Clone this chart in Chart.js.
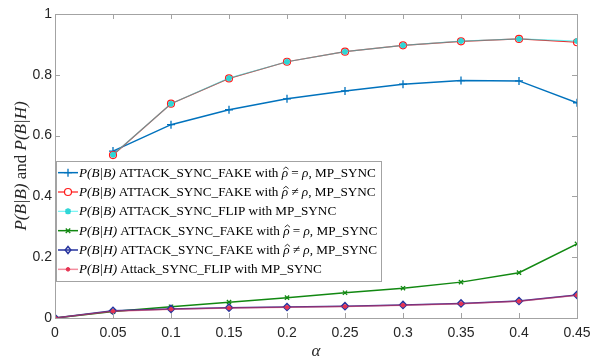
<!DOCTYPE html>
<html>
<head>
<meta charset="utf-8">
<script src="https://cdn.jsdelivr.net/npm/chart.js@4.4.0/dist/chart.umd.min.js"></script>
<style>
  html, body { margin: 0; padding: 0; background: #ffffff; }
  #wrap { width: 603px; height: 362px; position: relative; }
</style>
</head>
<body>
<div id="wrap"><canvas id="c" width="603" height="362"></canvas></div>
<script>
// ---------------- data ----------------
const alphaBB = [0.05, 0.1, 0.15, 0.2, 0.25, 0.3, 0.35, 0.4, 0.45];
const alphaBH = [0, 0.05, 0.1, 0.15, 0.2, 0.25, 0.3, 0.35, 0.4, 0.45];

const pBB_fake_eq  = [0.549, 0.636, 0.685, 0.721, 0.747, 0.769, 0.781, 0.780, 0.708];
const pBB_fake_neq = [0.536, 0.705, 0.788, 0.843, 0.876, 0.897, 0.910, 0.918, 0.907];
const pBB_flip     = [0.537, 0.705, 0.789, 0.843, 0.876, 0.897, 0.911, 0.918, 0.911];

const pBH_fake_eq  = [0, 0.021, 0.037, 0.052, 0.067, 0.083, 0.098, 0.118, 0.149, 0.244];
const pBH_fake_neq = [0, 0.024, 0.030, 0.034, 0.036, 0.039, 0.043, 0.048, 0.056, 0.076];
const pBH_flip     = [0, 0.022, 0.029, 0.033, 0.035, 0.038, 0.042, 0.047, 0.055, 0.075];

// '*' toggles italic
const legendLabels = [
  "*P(B|B)* ATTACK_SYNC_FAKE with *ρ̂* = *ρ*, MP_SYNC",
  "*P(B|B)* ATTACK_SYNC_FAKE with *ρ̂* ≠ *ρ*, MP_SYNC",
  "*P(B|B)* ATTACK_SYNC_FLIP with MP_SYNC",
  "*P(B|H)* ATTACK_SYNC_FAKE with *ρ̂* = *ρ*, MP_SYNC",
  "*P(B|H)* ATTACK_SYNC_FAKE with *ρ̂* ≠ *ρ*, MP_SYNC",
  "*P(B|H)* Attack_SYNC_FLIP with MP_SYNC"
];
const yTitle = "*P(B|B)* and *P(B|H)*";
const xTitle = "*α*";
const xTickValues = [0, 0.05, 0.1, 0.15, 0.2, 0.25, 0.3, 0.35, 0.4, 0.45];
const yTickValues = [0, 0.2, 0.4, 0.6, 0.8, 1];

function pts(xs, ys) { return xs.map((x, i) => ({ x: x, y: ys[i] })); }

// ---------------- styles ----------------
const SERIF = "'Liberation Serif', 'DejaVu Serif', serif";
const SANS = "'Liberation Sans', Arial, sans-serif";
const AXIS_COLOR = '#a3a3a3';
const HAT = '\u0302';

const datasets = [
  { label: legendLabels[0], data: pts(alphaBB, pBB_fake_eq), borderColor: '#0072BD', borderWidth: 1.5,
    pointStyle: 'cross', pointRadius: 4, pointBorderColor: '#0072BD', pointBorderWidth: 1.3, pointBackgroundColor: 'rgba(0,0,0,0)', order: 6 },
  { label: legendLabels[1], data: pts(alphaBB, pBB_fake_neq), borderColor: '#ff1a1a', borderWidth: 1.2,
    pointStyle: 'circle', pointRadius: 3.5, pointBorderColor: '#ff1a1a', pointBorderWidth: 1.2, pointBackgroundColor: 'rgba(255,255,255,0)', order: 5 },
  { label: legendLabels[2], data: pts(alphaBB, pBB_flip), borderColor: 'rgba(0,235,235,0.55)', borderWidth: 1.2,
    pointStyle: 'star', pointRadius: 3, pointBorderColor: '#2fd6d6', pointBorderWidth: 1.8, pointBackgroundColor: '#2fd6d6', order: 4 },
  { label: legendLabels[3], data: pts(alphaBH, pBH_fake_eq), borderColor: '#118811', borderWidth: 1.5,
    pointStyle: 'crossRot', pointRadius: 3, pointBorderColor: '#118811', pointBorderWidth: 1.3, pointBackgroundColor: 'rgba(0,0,0,0)', order: 3 },
  { label: legendLabels[4], data: pts(alphaBH, pBH_fake_neq), borderColor: '#26339e', borderWidth: 1.5,
    pointStyle: 'rectRot', pointRadius: 3.5, pointBorderColor: '#26339e', pointBorderWidth: 1.5, pointBackgroundColor: 'rgba(255,255,255,0)', order: 2 },
  { label: legendLabels[5], data: pts(alphaBH, pBH_flip), borderColor: 'rgba(235,50,80,0.55)', borderWidth: 1.5,
    pointStyle: 'circle', pointRadius: 1.8, pointBorderColor: '#e63352', pointBorderWidth: 1, pointBackgroundColor: '#e63352', order: 1 }
];
datasets.forEach(d => { d.fill = false; d.tension = 0; d.showLine = true; });

// ---------------- helpers ----------------
function segs(str) {
  const out = []; let it = false;
  str.split('*').forEach((s, i) => { if (s.length) out.push({ t: s, it: it }); it = !it; });
  return out;
}
function fontFor(it, size) { return (it ? 'italic ' : '') + size + 'px ' + SERIF; }
// split a segment into units {t, hat}
function units(text) {
  const chars = Array.from(text);
  const out = [];
  let buf = '';
  for (let i = 0; i < chars.length; i++) {
    if (chars[i] === HAT) continue;
    if (chars[i + 1] === HAT) {
      if (buf) { out.push({ t: buf, hat: false }); buf = ''; }
      out.push({ t: chars[i], hat: true });
    } else buf += chars[i];
  }
  if (buf) out.push({ t: buf, hat: false });
  return out;
}
function measureMixed(ctx, str, size) {
  let w = 0;
  segs(str).forEach(s => {
    ctx.font = fontFor(s.it, size);
    units(s.t).forEach(u => { w += ctx.measureText(u.t).width; });
  });
  return w;
}
function drawMixed(ctx, str, x, y, size, align) {
  const w = measureMixed(ctx, str, size);
  let cx = align === 'center' ? x - w / 2 : x;
  ctx.textAlign = 'left';
  ctx.textBaseline = 'middle';
  segs(str).forEach(s => {
    ctx.font = fontFor(s.it, size);
    units(s.t).forEach(u => {
      const uw = ctx.measureText(u.t).width;
      ctx.fillText(u.t, cx, y);
      if (u.hat) {
        const hx = cx + uw / 2 + (s.it ? size * 0.08 : 0);
        const hb = y - size * 0.3;
        const hw = size * 0.2, hh = size * 0.17;
        ctx.save();
        ctx.strokeStyle = ctx.fillStyle; ctx.lineWidth = Math.max(0.8, size * 0.06);
        ctx.beginPath();
        ctx.moveTo(hx - hw, hb); ctx.lineTo(hx, hb - hh); ctx.lineTo(hx + hw, hb);
        ctx.stroke();
        ctx.restore();
      }
      cx += uw;
    });
  });
}
function drawMarker(ctx, style, x, y, r, stroke, fill, lw) {
  ctx.save();
  ctx.strokeStyle = stroke; ctx.fillStyle = fill; ctx.lineWidth = lw;
  ctx.beginPath();
  if (style === 'cross') {
    ctx.moveTo(x - r, y); ctx.lineTo(x + r, y); ctx.moveTo(x, y - r); ctx.lineTo(x, y + r); ctx.stroke();
  } else if (style === 'crossRot') {
    const d = r * 0.75;
    ctx.moveTo(x - d, y - d); ctx.lineTo(x + d, y + d); ctx.moveTo(x - d, y + d); ctx.lineTo(x + d, y - d); ctx.stroke();
  } else if (style === 'star') {
    const d = r * 0.75;
    ctx.moveTo(x - r, y); ctx.lineTo(x + r, y); ctx.moveTo(x, y - r); ctx.lineTo(x, y + r);
    ctx.moveTo(x - d, y - d); ctx.lineTo(x + d, y + d); ctx.moveTo(x - d, y + d); ctx.lineTo(x + d, y - d); ctx.stroke();
  } else if (style === 'rectRot') {
    ctx.moveTo(x, y - r); ctx.lineTo(x + r * 0.8, y); ctx.lineTo(x, y + r); ctx.lineTo(x - r * 0.8, y); ctx.closePath();
    ctx.fill(); ctx.stroke();
  } else {
    ctx.arc(x, y, r, 0, Math.PI * 2); ctx.fill(); ctx.stroke();
  }
  ctx.restore();
}

// ---------------- plugin: box, inward ticks, titles, legend ----------------
const decor = {
  id: 'decor',
  afterDatasetsDraw(chart) {
    const ctx = chart.ctx;
    const a = chart.chartArea;
    const xs = chart.scales.x, ys = chart.scales.y;
    ctx.save();
    // axes box
    ctx.strokeStyle = AXIS_COLOR; ctx.lineWidth = 1;
    ctx.strokeRect(Math.round(a.left) + 0.5, Math.round(a.top) + 0.5, Math.round(a.right - a.left), Math.round(a.bottom - a.top));
    // inward ticks
    const tl = 5;
    ctx.beginPath();
    xTickValues.forEach(v => {
      const px = Math.round(xs.getPixelForValue(v)) + 0.5;
      ctx.moveTo(px, a.bottom); ctx.lineTo(px, a.bottom - tl);
      ctx.moveTo(px, a.top); ctx.lineTo(px, a.top + tl);
    });
    yTickValues.forEach(v => {
      const py = Math.round(ys.getPixelForValue(v)) + 0.5;
      ctx.moveTo(a.left, py); ctx.lineTo(a.left + tl, py);
      ctx.moveTo(a.right, py); ctx.lineTo(a.right - tl, py);
    });
    ctx.stroke();

    // axis titles
    ctx.fillStyle = '#262626';
    drawMixed(ctx, xTitle, (a.left + a.right) / 2, 352, 17, 'center');
    ctx.save();
    ctx.translate(22, (a.top + a.bottom) / 2);
    ctx.rotate(-Math.PI / 2);
    drawMixed(ctx, yTitle, 0, 0, 17, 'center');
    ctx.restore();

    // legend
    const lx0 = 56, ly0 = 161, lx1 = 381, ly1 = 281;
    ctx.fillStyle = '#ffffff';
    ctx.fillRect(lx0, ly0, lx1 - lx0, ly1 - ly0);
    ctx.strokeStyle = AXIS_COLOR; ctx.lineWidth = 1;
    ctx.strokeRect(lx0 + 0.5, ly0 + 0.5, lx1 - lx0, ly1 - ly0);
    // fit font to box
    let size = 14;
    const target = 297;
    const w0 = measureMixed(ctx, legendLabels[0], size);
    size = Math.min(15, size * target / w0);
    const rowH = (ly1 - ly0 - 4) / chart.data.datasets.length;
    chart.data.datasets.forEach((d, i) => {
      const cy = ly0 + 2 + rowH * (i + 0.5);
      ctx.strokeStyle = d.borderColor; ctx.lineWidth = d.borderWidth;
      ctx.beginPath(); ctx.moveTo(58, cy); ctx.lineTo(78, cy); ctx.stroke();
      drawMarker(ctx, d.pointStyle, 68, cy, d.pointRadius, d.pointBorderColor,
        d.pointStyle === 'circle' && d.pointRadius > 2 ? '#ffffff' : d.pointBackgroundColor, d.pointBorderWidth);
      ctx.fillStyle = '#000000';
      drawMixed(ctx, d.label, 79, cy + 0.5, size, 'left');
    });
    ctx.restore();
  }
};

new Chart(document.getElementById('c'), {
  type: 'line',
  data: { datasets: datasets },
  options: {
    responsive: false,
    devicePixelRatio: 1,
    animation: false,
    layout: { padding: { left: 0, right: 26, top: 14, bottom: 0 } },
    plugins: { legend: { display: false }, tooltip: { enabled: false }, title: { display: false } },
    scales: {
      x: {
        type: 'linear', min: 0, max: 0.45,
        afterBuildTicks: s => { s.ticks = xTickValues.map(v => ({ value: v })); },
        afterFit: s => { s.height = 44; },
        grid: { display: false, drawTicks: false },
        border: { display: false },
        ticks: {
          autoSkip: false, maxRotation: 0, padding: 7, color: '#262626',
          font: { family: SANS, size: 14 },
          callback: v => String(Number(v.toFixed(2)))
        }
      },
      y: {
        type: 'linear', min: 0, max: 1,
        afterBuildTicks: s => { s.ticks = yTickValues.map(v => ({ value: v })); },
        afterFit: s => { s.width = 55; },
        grid: { display: false, drawTicks: false },
        border: { display: false },
        ticks: {
          padding: 3, color: '#262626',
          font: { family: SANS, size: 14 },
          callback: v => String(Number(v.toFixed(2)))
        }
      }
    }
  },
  plugins: [decor]
});
</script>
</body>
</html>
